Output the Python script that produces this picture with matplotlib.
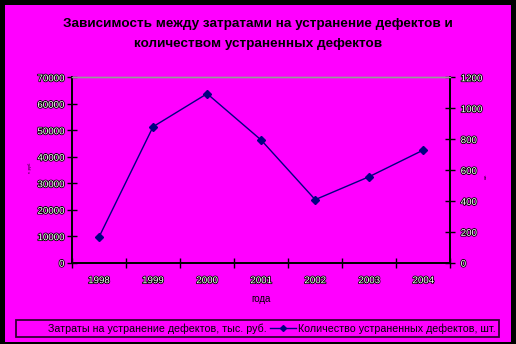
import matplotlib
matplotlib.use('Agg')
import matplotlib.pyplot as plt
import matplotlib.patheffects as pe
from matplotlib.lines import Line2D
from matplotlib.patches import Rectangle

plt.rcParams['font.family'] = ['Liberation Sans', 'DejaVu Sans']

# данные
years = ['1998', '1999', '2000', '2001', '2002', '2003', '2004']
defects = [166, 880, 1094, 794, 408, 557, 729]
left_ticks = [0, 10000, 20000, 30000, 40000, 50000, 60000, 70000]
right_ticks = [0, 200, 400, 600, 800, 1000, 1200]

W, H = 516, 344
BG = '#FF00FF'
LINE = '#000080'

fig = plt.figure(figsize=(W / 100, H / 100), dpi=100)
fig.patch.set_facecolor('black')
# розовая область внутри черной рамки
fig.add_artist(Rectangle((5 / W, 2 / H), 506 / W, 337 / H,
                         transform=fig.transFigure, facecolor=BG,
                         edgecolor='none', zorder=0))

ax = fig.add_axes([72 / W, 81.3 / H, 378.3 / W, 185.4 / H])
ax.set_facecolor(BG)
ax2 = ax.twinx()

x = list(range(len(years)))
ax2.plot(x, defects, color=LINE, lw=1, marker='D', ms=4,
         mfc=LINE, mec=LINE)

ax.set_xlim(-0.5, len(years) - 0.5)
ax.set_ylim(0, 70000)
ax2.set_ylim(0, 1200)

outline = [pe.withStroke(linewidth=1.2, foreground='black')]

ax.set_yticks(left_ticks)
ax.set_yticklabels([str(v) for v in left_ticks])
ax2.set_yticks(right_ticks)
ax2.set_yticklabels([str(v) for v in right_ticks])

# деления по границам категорий, подписи по центрам
ax.set_xticks([i - 0.5 for i in range(len(years) + 1)])
ax.set_xticklabels([])
ax.set_xticks(x, minor=True)
ax.set_xticklabels(years, minor=True)
ax.tick_params(axis='x', which='minor', length=0, pad=9)
ax.tick_params(axis='x', which='major', direction='inout', length=7,
               width=1, color='black')
ax.tick_params(axis='y', direction='inout', length=7, width=1,
               color='black', pad=2)
ax2.tick_params(axis='y', direction='inout', length=7, width=1,
                color='black', pad=4)

for lab in (ax.get_yticklabels() + ax2.get_yticklabels()
            + ax.get_xticklabels(minor=True)):
    lab.set_fontsize(7)
    lab.set_color('white')
    lab.set_path_effects(outline)

for a in (ax, ax2):
    a.spines['left'].set_color('black')
    a.spines['right'].set_color('black')
    a.spines['bottom'].set_color('black')
    a.spines['left'].set_linewidth(1.3)
    a.spines['right'].set_linewidth(1.3)
    a.spines['bottom'].set_linewidth(1.3)
    a.spines['top'].set_color('#999999')
    a.spines['top'].set_linewidth(1)

ax.set_xlabel('года', fontsize=7, labelpad=6)
fig.text(30 / W, 1 - 168 / H, 'т. руб', fontsize=3, rotation=90,
         ha='center', va='center')
fig.text(486 / W, 1 - 176 / H, 'шт.', fontsize=3, rotation=90,
         ha='center', va='center')

fig.text(258 / W, 1 - 24 / H,
         'Зависимость между затратами на устранение дефектов и',
         fontsize=9.7, fontweight='bold', ha='center', va='center')
fig.text(258 / W, 1 - 44 / H, 'количеством устраненных дефектов',
         fontsize=9.7, fontweight='bold', ha='center', va='center')

handles = [Line2D([], [], color=BG, lw=1),
           Line2D([], [], color=LINE, lw=1, marker='D', ms=3)]
labels = ['Затраты на устранение дефектов, тыс. руб.',
          'Количество устраненных дефектов, шт.']
leg = fig.legend(handles, labels, loc='center',
                 bbox_to_anchor=(257.5 / W, 1 - 328.3 / H), ncol=2,
                 fontsize=7.7, frameon=True, fancybox=False,
                 handlelength=2.5, handletextpad=0.2, columnspacing=0.3,
                 borderpad=0.3, borderaxespad=0)
leg.get_frame().set_facecolor(BG)
leg.get_frame().set_edgecolor('black')
leg.get_frame().set_linewidth(1.3)

fig.savefig('out.png', dpi=100, facecolor=fig.get_facecolor())
